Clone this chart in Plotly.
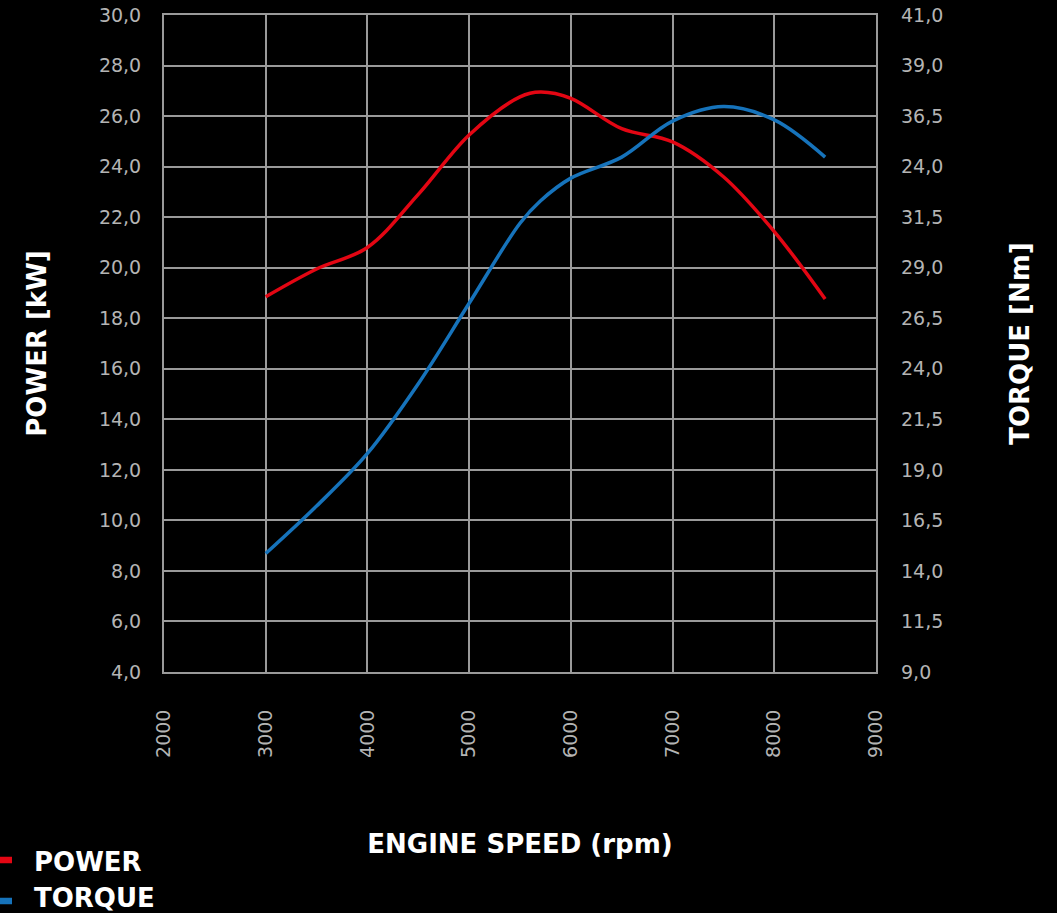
import plotly.graph_objects as go

rpm = [3000, 3500, 4000, 4500, 5000, 5500, 5700, 6000, 6500, 7000, 7500, 8000, 8500]
power_kw = [18.85, 19.95, 20.8, 22.9, 25.25, 26.76, 26.95, 26.7, 25.5, 24.98, 23.6, 21.43, 18.76]
torque_nm = [14.86, 17.21, 19.81, 23.26, 27.24, 31.2, 32.3, 33.43, 34.47, 36.25, 36.97, 36.31, 34.47]

x_ticks = [2000, 3000, 4000, 5000, 6000, 7000, 8000, 9000]
torque_tickvals = [9, 11.5, 14, 16.5, 19, 21.5, 24, 26.5, 29, 31.5, 34, 36.5, 39, 41.5]
torque_ticktext = ["9,0", "11,5", "14,0", "16,5", "19,0", "21,5", "24,0", "26,5",
                   "29,0", "31,5", "24,0", "36,5", "39,0", "41,0"]
series_names = ["POWER", "TORQUE"]

RED = "#e30613"
BLUE = "#1673bb"
GRID = "#9a9a9a"
TICK = "#b4b4b4"
FONT = "DejaVu Sans"
TITLE_FONT = dict(family=FONT, size=26, color="white", weight="bold")
TICK_FONT = dict(family=FONT, size=19, color=TICK)

L, R, T, B = 164, 181, 15, 241
W, H = 1057, 913
PW, PH = W - L - R, H - T - B


def px_x(p):
    return (p - L) / PW


def px_y(p):
    return (H - B - p) / PH


fig = go.Figure()
fig.add_trace(go.Scatter(x=rpm, y=power_kw, name=series_names[0], mode="lines",
                         line=dict(color=RED, width=3.5, shape="spline", smoothing=1.0)))
fig.add_trace(go.Scatter(x=rpm, y=torque_nm, name=series_names[1], mode="lines", yaxis="y2",
                         line=dict(color=BLUE, width=3.5, shape="spline", smoothing=1.0)))

# legend drawn as text + short dashes, below left
legend_y = [862, 898]
dash_y = [860, 901]
colors = [RED, BLUE]
annotations = []
shapes = []
for name, ty, dy, c in zip(series_names, legend_y, dash_y, colors):
    annotations.append(dict(text=name, x=px_x(32), y=px_y(ty), xref="paper", yref="paper",
                            xanchor="left", yanchor="middle", showarrow=False,
                            font=TITLE_FONT))
    shapes.append(dict(type="line", xref="paper", yref="paper",
                       x0=px_x(-4), x1=px_x(12), y0=px_y(dy), y1=px_y(dy),
                       line=dict(color=c, width=6.5)))

fig.update_layout(
    width=W, height=H,
    paper_bgcolor="black", plot_bgcolor="black",
    separators=",.",
    margin=dict(l=L, r=R, t=T, b=B, autoexpand=False),
    font=dict(family=FONT, color=TICK),
    showlegend=False,
    annotations=annotations,
    shapes=shapes,
    xaxis=dict(range=[2000, 9000], tickvals=x_ticks, tickangle=-90,
               showgrid=True, gridcolor=GRID, gridwidth=2,
               showline=True, linecolor=GRID, linewidth=2, mirror=True,
               zeroline=False, ticks="", ticklabelstandoff=28,
               tickfont=TICK_FONT, automargin=False,
               title=dict(text="ENGINE SPEED (rpm)", standoff=78, font=TITLE_FONT)),
    yaxis=dict(range=[4, 30], dtick=2, tick0=4, tickformat=".1f",
               showgrid=True, gridcolor=GRID, gridwidth=2,
               showline=True, linecolor=GRID, linewidth=2, mirror=True,
               zeroline=False, ticks="", ticklabelstandoff=17,
               tickfont=TICK_FONT, automargin=False,
               title=dict(text="POWER [kW]", standoff=45, font=TITLE_FONT)),
    yaxis2=dict(range=[9, 41.5], overlaying="y", side="right",
                tickvals=torque_tickvals, ticktext=torque_ticktext,
                showgrid=False, zeroline=False, showline=False, ticks="",
                ticklabelstandoff=24, automargin=False,
                tickfont=TICK_FONT,
                title=dict(text="TORQUE [Nm]", standoff=68, font=TITLE_FONT)),
)

fig.write_html("out.html", config={"displayModeBar": False},
               post_script="document.body.style.margin='0';document.body.style.background='black';")
